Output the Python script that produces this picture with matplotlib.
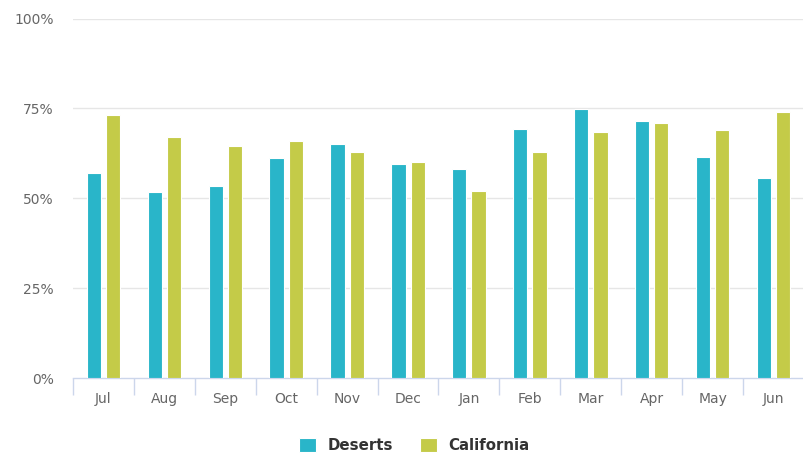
import matplotlib
matplotlib.use("Agg")
import matplotlib.pyplot as plt
import numpy as np

months = ["Jul", "Aug", "Sep", "Oct", "Nov", "Dec", "Jan", "Feb", "Mar", "Apr", "May", "Jun"]
deserts = [56.9, 51.8, 53.4, 61.1, 65.1, 59.6, 58.1, 69.3, 74.7, 71.6, 61.6, 55.7]
california = [73.2, 67.0, 64.6, 65.8, 62.8, 60.1, 52.0, 62.8, 68.5, 70.8, 68.9, 73.9]
yticks = [0, 25, 50, 75, 100]
ytick_labels = ["0%", "25%", "50%", "75%", "100%"]

c_des = "#29B5C9"
c_cal = "#C4CB48"

fig = plt.figure(figsize=(8.04, 4.55), dpi=100)
ax = fig.add_axes([73/804, 77/455, 731/804, (378-18.5)/455])

x = np.arange(len(months))
w = 0.235
off = 0.158
ax.bar(x - off, deserts, width=w, color=c_des, edgecolor="white", linewidth=0.8, label="Deserts", zorder=3)
ax.bar(x + off, california, width=w, color=c_cal, edgecolor="white", linewidth=0.8, label="California", zorder=3)

ax.set_xlim(-0.5, len(months) - 0.5)
ax.set_ylim(0, 100)
ax.set_yticks(yticks)
ax.set_yticklabels(ytick_labels)
for y in yticks[1:]:
    ax.axhline(y, color="#e6e6e6", linewidth=1, zorder=1)

for s in ["top", "right", "left"]:
    ax.spines[s].set_visible(False)
ax.spines["bottom"].set_color("#ccd6eb")
ax.spines["bottom"].set_linewidth(1)

ax.set_xticks(x)
ax.set_xticklabels(months)
ax.tick_params(axis="x", length=0, pad=10, labelsize=10, labelcolor="#666666")
ax.set_xticks(np.arange(-0.5, len(months), 1.0), minor=True)
ax.tick_params(axis="x", which="minor", length=12, color="#ccd6eb", width=1)
ax.tick_params(axis="y", length=0, pad=14, labelsize=10, labelcolor="#666666")

leg = ax.legend(loc="upper center", bbox_to_anchor=(0.5 - 24/731, -0.128), ncol=2, frameon=False,
                handlelength=1.15, handleheight=1.15, columnspacing=1.8, handletextpad=0.75,
                prop={"weight": "bold", "size": 10.8})
for t in leg.get_texts():
    t.set_color("#333333")

fig.savefig("out.png", dpi=100)
